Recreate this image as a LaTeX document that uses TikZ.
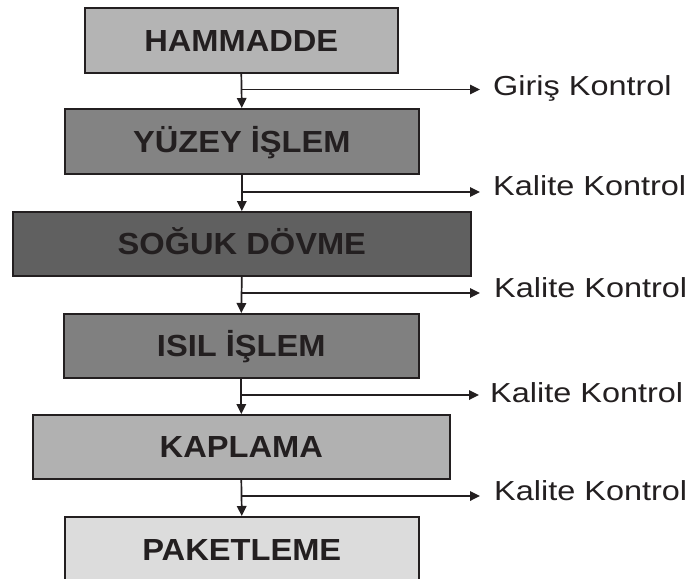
\documentclass[tikz,border=0pt]{standalone}
\usepackage{fontspec}
\setmainfont{Liberation Sans}
\usetikzlibrary{arrows.meta}
\definecolor{ink}{HTML}{231F20}
\definecolor{fA}{HTML}{B4B4B4}
\definecolor{fB}{HTML}{838383}
\definecolor{fC}{HTML}{606060}
\definecolor{fD}{HTML}{808080}
\definecolor{fE}{HTML}{B1B1B1}
\definecolor{fF}{HTML}{DCDCDC}
\newcommand{\boxlabel}[1]{\fontsize{30.5}{36}\selectfont\scalebox{1.07}[1]{\textbf{#1}}}
\newcommand{\ctrllabel}[1]{\fontsize{27.5}{32}\selectfont\scalebox{1.18}[1]{#1}}
\tikzset{
  stepbox/.style={draw=ink, line width=1.6pt, anchor=north west, inner sep=0pt,
    text=ink, text height=21.7pt, text depth=0pt, align=center},
  flow/.style={draw=ink, line width=1.7pt, -{Triangle[length=10pt,width=9.5pt]}},
  ctrl/.style={anchor=base west, text=ink, inner sep=0pt}
}
\begin{document}
\begin{tikzpicture}[x=1pt,y=-1pt]
\useasboundingbox (0,0) rectangle (692,578);
\clip (0,0) rectangle (692,578);
\fill[white] (0,0) rectangle (692,578);
% boxes
\node[stepbox, fill=fA, minimum width=313pt, minimum height=65pt] (b1) at (84,7) {\boxlabel{HAMMADDE}};
\node[stepbox, fill=fB, minimum width=354pt, minimum height=65pt] (b2) at (64,108) {\boxlabel{YÜZEY İŞLEM}};
\node[stepbox, fill=fC, minimum width=458pt, minimum height=64pt] (b3) at (12,211) {\boxlabel{SOĞUK DÖVME}};
\node[stepbox, fill=fD, minimum width=355pt, minimum height=64pt] (b4) at (63,313) {\boxlabel{ISIL İŞLEM}};
\node[stepbox, fill=fE, minimum width=417pt, minimum height=64pt] (b5) at (32,414) {\boxlabel{KAPLAMA}};
\node[stepbox, fill=fF, minimum width=354pt, minimum height=65pt] (b6) at (64,516) {\boxlabel{PAKETLEME}};
% vertical flow
\draw[flow] (b1.south) -- (b2.north);
\draw[flow] (b2.south) -- (b3.north);
\draw[flow] (b3.south) -- (b4.north);
\draw[flow] (b4.south) -- (b5.north);
\draw[flow] (b5.south) -- (b6.north);
% branches
\coordinate (j1) at (241,89.5);  \coordinate (e1) at (480,89.5);
\coordinate (j2) at (241,192);   \coordinate (e2) at (480,192);
\coordinate (j3) at (241,293);   \coordinate (e3) at (480,293);
\coordinate (j4) at (241,395);   \coordinate (e4) at (479,395);
\coordinate (j5) at (241,496);   \coordinate (e5) at (480,496);
\draw[flow] (j1) -- (e1);
\draw[flow] (j2) -- (e2);
\draw[flow] (j3) -- (e3);
\draw[flow] (j4) -- (e4);
\draw[flow] (j5) -- (e5);
\node[ctrl] (k1) at (493,95.5) {\ctrllabel{Giriş Kontrol}};
\node[ctrl] (k2) at (493,195) {\ctrllabel{Kalite Kontrol}};
\node[ctrl] (k3) at (494,297.5) {\ctrllabel{Kalite Kontrol}};
\node[ctrl] (k4) at (490,402.5) {\ctrllabel{Kalite Kontrol}};
\node[ctrl] (k5) at (494,500.5) {\ctrllabel{Kalite Kontrol}};
\end{tikzpicture}
\end{document}
